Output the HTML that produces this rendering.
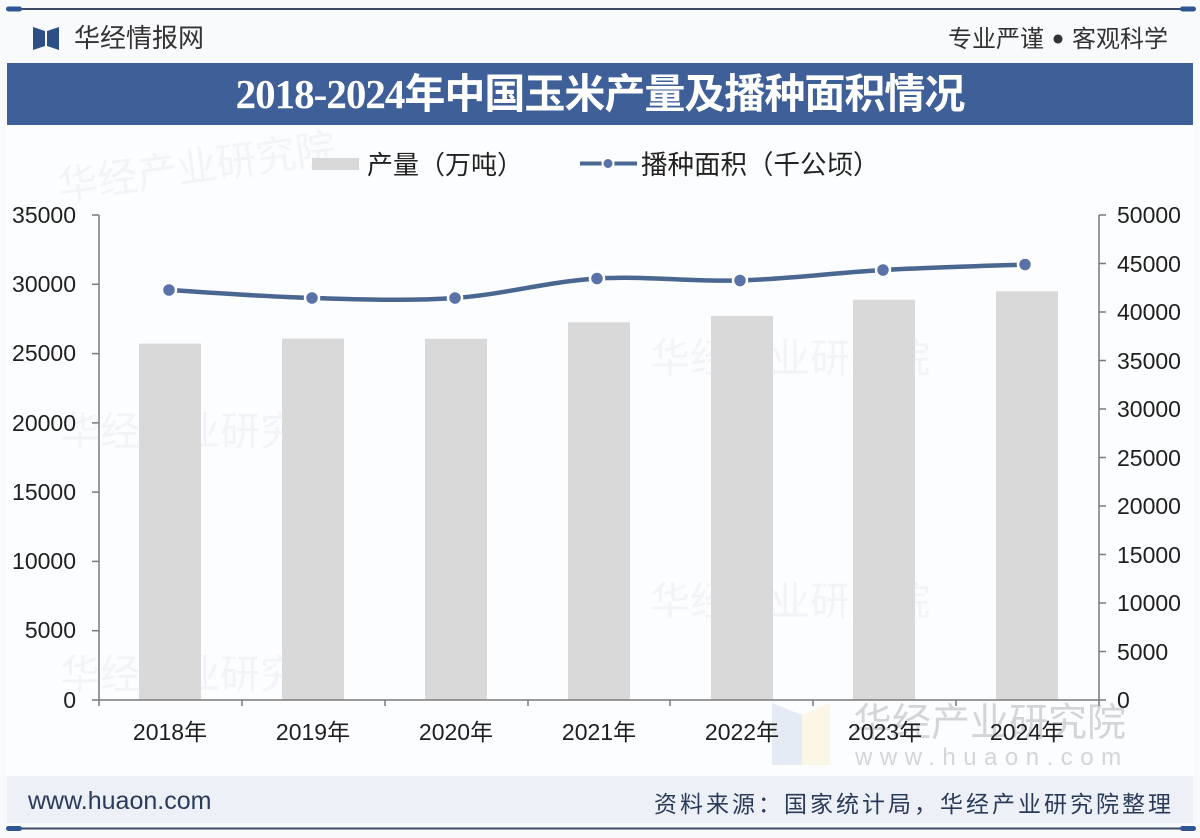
<!DOCTYPE html>
<html>
<head>
<meta charset="utf-8">
<style>
  html,body{margin:0;padding:0;}
  body{width:1200px;height:838px;background:#f9fafc;position:relative;overflow:hidden;
       font-family:"Liberation Sans","Noto Sans CJK SC",sans-serif;}
  .abs{position:absolute;white-space:nowrap;}
</style>
</head>
<body>
<svg class="abs" style="left:0;top:0" width="1200" height="838" viewBox="0 0 1200 838" xmlns="http://www.w3.org/2000/svg">
  <line x1="8" y1="9" x2="1192" y2="9" stroke="#3b4b63" stroke-width="2"/>
  <rect x="6" y="6.5" width="16" height="5" rx="2.5" fill="#2f5595"/>
  <rect x="1180" y="6.5" width="16" height="5" rx="2.5" fill="#2f5595"/>
  <polygon points="33,27 45,31 45,46 33,50" fill="#2c4f86"/>
  <polygon points="47,31 59,27 59,50 47,46" fill="#2c4f86"/>
  <rect x="7" y="63" width="1186" height="62" fill="#3e5f98"/>
  <rect x="7" y="126" width="1186" height="650" fill="#fcfdfe"/>

  <g font-family="Noto Sans CJK SC, sans-serif" font-size="40" fill="#eef0f4" opacity="0.7">
    <text x="60" y="200" transform="rotate(-8 60 200)">华经产业研究院</text>
    <text x="650" y="372">华经产业研究院</text>
    <text x="60" y="445">华经产业研究院</text>
    <text x="650" y="615">华经产业研究院</text>
    <text x="60" y="688">华经产业研究院</text>
  </g>
  <polygon points="772,703 802,715 802,765 772,765" fill="#e4ebf5"/>
  <polygon points="802,715 830,703 830,765 802,765" fill="#fbf6e6"/>
  <text x="853" y="736" font-family="Noto Sans CJK SC, sans-serif" font-size="39" fill="#d3d5d9">华经产业研究院</text>
  <text x="855" y="765" font-family="Liberation Sans, sans-serif" font-size="24" letter-spacing="7.5" fill="#d3d5d9">www.huaon.com</text>

  <g fill="#d9d9d9">
    <rect x="139" y="343.6" width="62" height="356.4"/>
    <rect x="282" y="338.6" width="62" height="361.4"/>
    <rect x="425" y="338.8" width="62" height="361.2"/>
    <rect x="568" y="322.3" width="62" height="377.7"/>
    <rect x="711" y="315.9" width="62" height="384.1"/>
    <rect x="853" y="299.7" width="62" height="400.3"/>
    <rect x="996" y="291.3" width="62" height="408.7"/>
  </g>

  <g stroke="#7a7a7a" stroke-width="1.5" fill="none">
    <line x1="99" y1="215" x2="99" y2="700"/>
    <line x1="1099" y1="215" x2="1099" y2="700"/>
    <line x1="92" y1="700" x2="1106" y2="700"/>
    <line x1="92" y1="215" x2="99" y2="215"/>
    <line x1="92" y1="284.3" x2="99" y2="284.3"/>
    <line x1="92" y1="353.6" x2="99" y2="353.6"/>
    <line x1="92" y1="422.9" x2="99" y2="422.9"/>
    <line x1="92" y1="492.1" x2="99" y2="492.1"/>
    <line x1="92" y1="561.4" x2="99" y2="561.4"/>
    <line x1="92" y1="630.7" x2="99" y2="630.7"/>
    <line x1="1099" y1="215" x2="1106" y2="215"/>
    <line x1="1099" y1="263.5" x2="1106" y2="263.5"/>
    <line x1="1099" y1="312" x2="1106" y2="312"/>
    <line x1="1099" y1="360.5" x2="1106" y2="360.5"/>
    <line x1="1099" y1="409" x2="1106" y2="409"/>
    <line x1="1099" y1="457.5" x2="1106" y2="457.5"/>
    <line x1="1099" y1="506" x2="1106" y2="506"/>
    <line x1="1099" y1="554.5" x2="1106" y2="554.5"/>
    <line x1="1099" y1="603" x2="1106" y2="603"/>
    <line x1="1099" y1="651.5" x2="1106" y2="651.5"/>
    <line x1="99" y1="700" x2="99" y2="706"/>
    <line x1="242" y1="700" x2="242" y2="706"/>
    <line x1="385" y1="700" x2="385" y2="706"/>
    <line x1="528" y1="700" x2="528" y2="706"/>
    <line x1="670" y1="700" x2="670" y2="706"/>
    <line x1="813" y1="700" x2="813" y2="706"/>
    <line x1="956" y1="700" x2="956" y2="706"/>
    <line x1="1099" y1="700" x2="1099" y2="706"/>
  </g>

  <g font-family="Liberation Sans, sans-serif" font-size="23" fill="#1f1f1f" text-anchor="end">
    <text x="76" y="223">35000</text>
    <text x="76" y="292">30000</text>
    <text x="76" y="361">25000</text>
    <text x="76" y="431">20000</text>
    <text x="76" y="500">15000</text>
    <text x="76" y="569">10000</text>
    <text x="76" y="638">5000</text>
    <text x="76" y="708">0</text>
  </g>
  <g font-family="Liberation Sans, sans-serif" font-size="23" fill="#1f1f1f" text-anchor="start">
    <text x="1117" y="223">50000</text>
    <text x="1117" y="272">45000</text>
    <text x="1117" y="320">40000</text>
    <text x="1117" y="369">35000</text>
    <text x="1117" y="417">30000</text>
    <text x="1117" y="466">25000</text>
    <text x="1117" y="514">20000</text>
    <text x="1117" y="563">15000</text>
    <text x="1117" y="611">10000</text>
    <text x="1117" y="660">5000</text>
    <text x="1117" y="708">0</text>
  </g>
  <g font-family="Liberation Sans, Noto Sans CJK SC, sans-serif" font-size="23" fill="#1f1f1f" text-anchor="middle">
    <text x="170" y="740">2018年</text>
    <text x="313" y="740">2019年</text>
    <text x="456" y="740">2020年</text>
    <text x="599" y="740">2021年</text>
    <text x="742" y="740">2022年</text>
    <text x="885" y="740">2023年</text>
    <text x="1027" y="740">2024年</text>
  </g>

  <path d="M169,290 C192.8,291.3 264.3,296.7 312,298 C359.7,299.3 407.5,301.25 455,298 C502.5,294.75 549.5,281.4 597,278.5 C644.5,275.6 692.3,281.9 740,280.5 C787.7,279.1 835.5,272.7 883,270 C930.5,267.3 1001.3,265.4 1025,264.5"
        fill="none" stroke="#4a6792" stroke-width="4.5" stroke-linecap="round"/>
  <g fill="#5a72a8" stroke="#ffffff" stroke-width="2.5">
    <circle cx="169" cy="290" r="7"/>
    <circle cx="312" cy="298" r="7"/>
    <circle cx="455" cy="298" r="7"/>
    <circle cx="597" cy="278.5" r="7"/>
    <circle cx="740" cy="280.5" r="7"/>
    <circle cx="883" cy="270" r="7"/>
    <circle cx="1025" cy="264.5" r="7"/>
  </g>

  <rect x="312" y="158" width="47" height="12" fill="#d9d9d9"/>
  <line x1="580" y1="163.5" x2="637" y2="163.5" stroke="#4a6792" stroke-width="4"/>
  <circle cx="608" cy="163.5" r="5.5" fill="#5a72a8" stroke="#fff" stroke-width="2"/>

  <rect x="7" y="776" width="1186" height="47" fill="#edf0f6"/>
  <line x1="8" y1="828.5" x2="1192" y2="828.5" stroke="#3b4b63" stroke-width="2"/>
  <rect x="6" y="826" width="16" height="5" rx="2.5" fill="#2f5595"/>
  <rect x="1180" y="826" width="16" height="5" rx="2.5" fill="#2f5595"/>
</svg>

<div class="abs" style="left:74px;top:20px;font-family:'Noto Sans CJK SC',sans-serif;font-size:26px;line-height:34px;color:#333;">华经情报网</div>
<div class="abs" style="right:32px;top:21px;font-family:'Noto Sans CJK SC',sans-serif;font-size:24px;line-height:32px;color:#333;">专业严谨<span style="font-size:10px;vertical-align:4px;margin:0 9px;">●</span>客观科学</div>

<div class="abs" style="left:7px;width:1186px;top:63px;height:62px;line-height:62px;text-align:center;color:#fff;font-weight:bold;font-size:41px;letter-spacing:-1px;font-family:'Liberation Serif','Noto Sans CJK SC',serif;">2018-2024年中国玉米产量及播种面积情况</div>

<div class="abs" style="left:367px;top:146px;font-family:'Noto Sans CJK SC',sans-serif;font-size:26px;line-height:36px;color:#222;">产量（万吨）</div>
<div class="abs" style="left:641px;top:145px;font-family:'Noto Sans CJK SC',sans-serif;font-size:26.5px;line-height:36px;color:#222;">播种面积（千公顷）</div>

<div class="abs" style="left:28px;top:785px;font-family:'Liberation Sans',sans-serif;font-size:25px;line-height:32px;color:#2b3a58;">www.huaon.com</div>
<div class="abs" style="right:26px;top:786px;font-family:'Noto Sans CJK SC',sans-serif;font-size:23px;line-height:32px;letter-spacing:3px;color:#2b3a58;">资料来源：国家统计局，华经产业研究院整理</div>
</body>
</html>
